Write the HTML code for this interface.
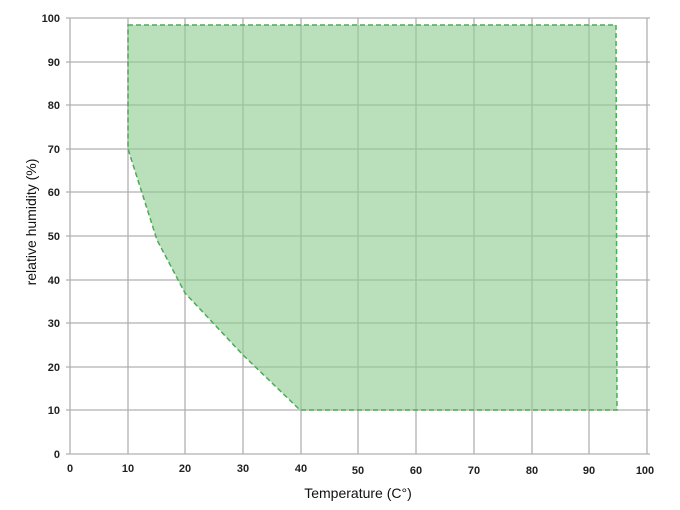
<!DOCTYPE html>
<html><head><style>body{margin:0;background:#fff}svg{display:block}</style></head><body>
<svg width="680" height="510" viewBox="0 0 680 510" xmlns="http://www.w3.org/2000/svg" font-family="Liberation Sans, sans-serif">
<g stroke="#b0b0b0" stroke-width="1.3">
<line x1="70" y1="18" x2="70" y2="454"/>
<line x1="128" y1="18" x2="128" y2="454"/><line x1="185" y1="18" x2="185" y2="454"/>
<line x1="243" y1="18" x2="243" y2="454"/><line x1="301" y1="18" x2="301" y2="454"/>
<line x1="358" y1="18" x2="358" y2="454"/><line x1="416" y1="18" x2="416" y2="454"/>
<line x1="474" y1="18" x2="474" y2="454"/><line x1="532" y1="18" x2="532" y2="454"/>
<line x1="589" y1="18" x2="589" y2="454"/><line x1="647" y1="18" x2="647" y2="454"/>
<line x1="66" y1="18" x2="650" y2="18"/><line x1="66" y1="62" x2="650" y2="62"/>
<line x1="66" y1="105" x2="650" y2="105"/><line x1="66" y1="149" x2="650" y2="149"/>
<line x1="66" y1="192" x2="650" y2="192"/><line x1="66" y1="236" x2="650" y2="236"/>
<line x1="66" y1="280" x2="650" y2="280"/><line x1="66" y1="323" x2="650" y2="323"/>
<line x1="66" y1="367" x2="650" y2="367"/><line x1="66" y1="410" x2="650" y2="410"/>
<line x1="66" y1="454" x2="650" y2="454"/>
</g>
<polygon points="128,25 616,25 617,410 300,410 243,355 185,293 157,240 128,149" fill="#8fcc92" fill-opacity="0.62" stroke="#4cab55" stroke-width="1.5" stroke-dasharray="5,3"/>
<g font-size="11" font-weight="bold" fill="#222" text-anchor="end">
<text x="60" y="22">100</text><text x="60" y="66">90</text><text x="60" y="109">80</text>
<text x="60" y="153">70</text><text x="60" y="196">60</text><text x="60" y="240">50</text>
<text x="60" y="284">40</text><text x="60" y="327">30</text><text x="60" y="371">20</text>
<text x="60" y="414">10</text><text x="60" y="458">0</text>
</g>
<g font-size="11" font-weight="bold" fill="#222" text-anchor="middle">
<text x="70" y="472">0</text><text x="128" y="472">10</text><text x="185" y="472">20</text>
<text x="243" y="472">30</text><text x="301" y="472">40</text><text x="358" y="474">50</text>
<text x="416" y="474">60</text><text x="474" y="474">70</text><text x="532" y="474">80</text>
<text x="589" y="474">90</text><text x="645" y="474">100</text>
</g>
<text x="358" y="498" font-size="14" fill="#111" text-anchor="middle">Temperature (C°)</text>
<text transform="translate(36,222) rotate(-90)" font-size="14" fill="#111" text-anchor="middle">relative humidity (%)</text>
</svg>
</body></html>
